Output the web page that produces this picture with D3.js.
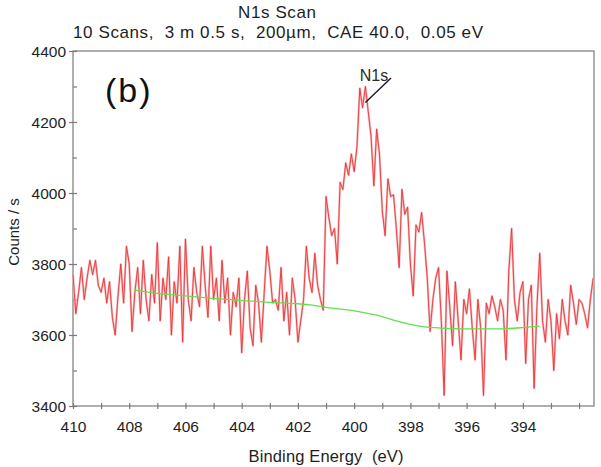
<!DOCTYPE html>
<html><head><meta charset="utf-8">
<script src="https://cdnjs.cloudflare.com/ajax/libs/d3/7.8.5/d3.min.js"></script>
<style>body{margin:0;background:#fff}svg{display:block}text{font-family:"Liberation Sans",Arial,sans-serif}</style>
</head><body><div id="chart"></div>
<script>
// Binding energy start/step (eV) and N1s counts per second
const eStart = 410.0;
const eStep = 0.1;
const counts = [
 3770,3660,3720,3790,3700,3760,3810,3770,3810,3740,
 3720,3760,3690,3750,3650,3600,3710,3800,3690,3850,
 3800,3610,3720,3790,3660,3810,3700,3640,3770,3690,
 3860,3640,3760,3700,3820,3600,3750,3690,3850,3580,
 3870,3700,3640,3790,3720,3680,3850,3740,3650,3850,
 3700,3760,3640,3810,3690,3760,3600,3720,3680,3760,
 3550,3700,3780,3620,3570,3740,3690,3580,3720,3850,
 3780,3690,3700,3670,3790,3640,3720,3600,3760,3700,
 3580,3640,3700,3850,3760,3720,3830,3740,3700,3670,
 3990,3930,3880,3900,3800,4030,4010,4085,4050,4110,
 4060,4130,4295,4240,4300,4230,4160,4020,4180,4110,
 3950,3880,4040,3990,3995,3900,3790,4010,3940,3960,
 3800,3710,3910,3890,3945,3860,3760,3610,3700,3760,
 3790,3640,3430,3780,3680,3570,3750,3640,3530,3700,
 3660,3730,3620,3530,3700,3620,3430,3690,3660,3710,
 3680,3640,3700,3670,3530,3780,3900,3700,3640,3720,
 3750,3520,3700,3740,3450,3680,3830,3640,3580,3700,
 3640,3500,3660,3590,3700,3640,3600,3740,3690,3630,
 3700,3690,3660,3620,3700,3760
];
// Background (green) line: [binding energy, counts]
const bgEnergy = [407.83,407,406,405,404,403,402,401.5,401,400,399,398.5,398,397.5,397,396,395,394,393.4];
const bgCounts = [3727,3717,3710,3703,3697,3692,3688,3684,3678,3668,3652,3640,3630,3623,3620,3617,3617,3621,3625];
const xTicks = [410,408,406,404,402,400,398,396,394];
const yTicks = [3400,3600,3800,4000,4200,4400];
const title = "N1s Scan";
const subtitle = "10 Scans,  3 m 0.5 s,  200\u00b5m,  CAE 40.0,  0.05 eV";

const W = 601, H = 467;
const svg = d3.select("#chart").append("svg").attr("width", W).attr("height", H);
const x = d3.scaleLinear().domain([410, 391.47]).range([73, 594]);
const y = d3.scaleLinear().domain([3400, 4400]).range([406, 51]);
const frame = "#7a7a7a";
const ink = "#1e1e1e";

svg.append("text").attr("x", 277).attr("y", 18).attr("text-anchor", "middle")
  .attr("font-size", 17).attr("fill", ink).attr("textLength", 78).text(title);
svg.append("text").attr("x", 278).attr("y", 38).attr("text-anchor", "middle")
  .attr("font-size", 17).attr("fill", ink).style("white-space", "pre")
  .attr("textLength", 410).text(subtitle);

// frame
svg.append("rect").attr("x", 73).attr("y", 51).attr("width", 594 - 73).attr("height", 406 - 51)
  .attr("fill", "none").attr("stroke", frame).attr("stroke-width", 1.2);

// y axis
const yAxis = d3.axisLeft(y).tickValues(d3.range(3400, 4401, 100)).tickSize(0).tickFormat("");
const gy = svg.append("g").attr("transform", "translate(73,0)").call(yAxis);
gy.select(".domain").remove();
gy.selectAll(".tick").append("line").attr("x1", d => d % 200 === 0 ? -4 : 0).attr("x2", 4)
  .attr("stroke", frame).attr("stroke-width", 1.2);
gy.selectAll(".tick").filter(d => yTicks.includes(d)).append("text")
  .attr("x", -7).attr("dy", "0.36em").attr("text-anchor", "end").attr("font-size", 15.5)
  .attr("fill", ink).text(d => d);

// x axis
const xAxis = d3.axisBottom(x).tickValues(d3.range(392, 411, 1)).tickSize(0).tickFormat("");
const gx = svg.append("g").attr("transform", "translate(0,406)").call(xAxis);
gx.select(".domain").remove();
gx.selectAll(".tick").append("line").attr("y1", -3).attr("y2", 3)
  .attr("stroke", frame).attr("stroke-width", 1.2);
gx.selectAll(".tick").filter(d => xTicks.includes(d)).append("text")
  .attr("y", 26).attr("text-anchor", "middle").attr("font-size", 15.5)
  .attr("fill", ink).text(d => d);

svg.append("text").attr("x", 326).attr("y", 462).attr("text-anchor", "middle")
  .attr("font-size", 16.5).attr("fill", ink).style("white-space", "pre")
  .attr("textLength", 155).text("Binding Energy  (eV)");
svg.append("text").attr("transform", "translate(19,232) rotate(-90)").attr("text-anchor", "middle")
  .attr("font-size", 15).attr("fill", ink).text("Counts / s");

// data
const data = counts.map((c, i) => [eStart - i * eStep, c]);
const line = d3.line().x(d => x(d[0])).y(d => y(d[1]));
svg.append("path").datum(data).attr("d", line).attr("fill", "none")
  .attr("stroke", "#f7b8b8").attr("stroke-width", 2.2).attr("stroke-linejoin", "round");
svg.append("path").datum(data).attr("d", line).attr("fill", "none")
  .attr("stroke", "#e8363a").attr("stroke-width", 0.9).attr("stroke-linejoin", "round");

const bg = bgEnergy.map((e, i) => [e, bgCounts[i]]);
svg.append("path").datum(bg).attr("d", d3.line().curve(d3.curveMonotoneX).x(d => x(d[0])).y(d => y(d[1])))
  .attr("fill", "none").attr("stroke", "#62e04e").attr("stroke-width", 1.3);

// annotation
svg.append("text").attr("x", 374).attr("y", 81).attr("text-anchor", "middle")
  .attr("font-size", 16).attr("fill", "#2a2a2a").text("N1s");
svg.append("line").attr("x1", 391).attr("y1", 78).attr("x2", x(399.6)).attr("y2", y(4255))
  .attr("stroke", "#1a1a1a").attr("stroke-width", 1.4);

svg.append("text").attr("x", 105).attr("y", 102).attr("font-family", "Lato, 'Open Sans', sans-serif")
  .attr("font-size", 34).attr("letter-spacing", 2).attr("fill", "#111").text("(b)");
</script></body></html>
